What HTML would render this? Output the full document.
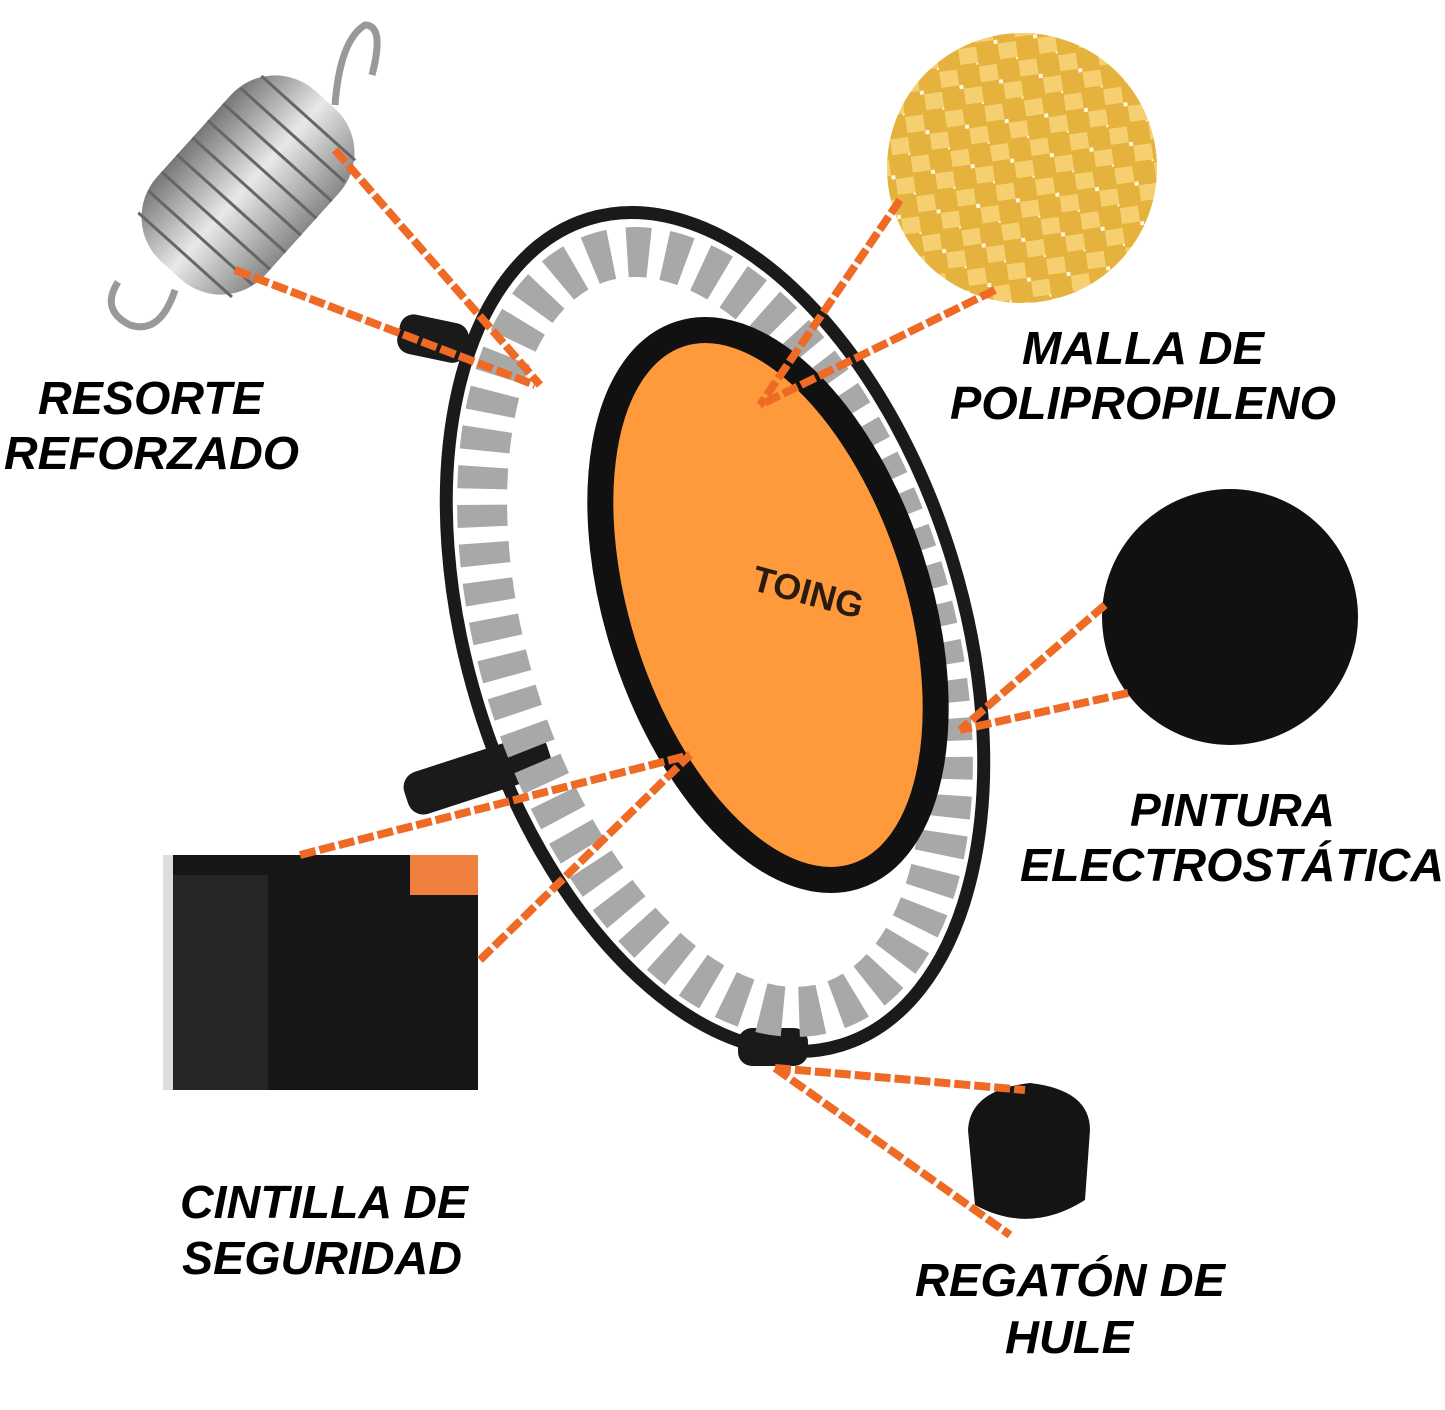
<!DOCTYPE html>
<html><head><meta charset="utf-8"><style>
html,body{margin:0;padding:0;background:#fff}
svg{display:block}
text{font-family:"Liberation Sans",sans-serif;font-weight:bold;font-style:italic;fill:#000}
</style></head><body>
<svg width="1445" height="1410" viewBox="0 0 1445 1410" xmlns="http://www.w3.org/2000/svg">
<defs>
<pattern id="weave" width="40" height="40" patternUnits="userSpaceOnUse" patternTransform="rotate(-8)">
<rect width="40" height="40" fill="#e5b23e"/>
<rect x="0" y="2" width="18" height="16" fill="#f6d070"/>
<rect x="22" y="22" width="18" height="16" fill="#f6d070"/>
<rect x="18" y="18" width="4" height="4" fill="#fff6e0"/>
<rect x="38" y="38" width="4" height="4" fill="#fff6e0"/>
</pattern>
<linearGradient id="sp" x1="0" y1="0" x2="1" y2="0"><stop offset="0" stop-color="#777"/><stop offset=".5" stop-color="#e8e8e8"/><stop offset="1" stop-color="#888"/></linearGradient>
</defs>

<!-- legs -->
<rect x="398" y="318" width="70" height="40" rx="14" fill="#1a1a1a" transform="rotate(12 430 338)"/>
<rect x="405" y="768" width="150" height="44" rx="16" fill="#1a1a1a" transform="rotate(-18 430 790)"/>
<rect x="738" y="1028" width="70" height="38" rx="14" fill="#1a1a1a"/>

<!-- trampoline -->
<g transform="rotate(-17 715 632)">
<ellipse cx="715" cy="632" rx="212" ry="392" fill="none" stroke="#a8a8a8" stroke-width="50" stroke-dasharray="22 16"/>
<ellipse cx="715" cy="632" rx="248" ry="432" fill="none" stroke="#1a1a1a" stroke-width="13"/>
</g>
<g transform="rotate(-18 768 605)">
<ellipse cx="768" cy="605" rx="150" ry="285" fill="#ff9a3c" stroke="#111" stroke-width="26"/>
</g>
<text x="750" y="600" font-size="36" transform="rotate(15 790 595)" style="font-style:normal;fill:#2a1a10">TOING</text>

<!-- spring photo -->
<path d="M335 105 Q340 40 365 25 Q385 25 372 75" fill="none" stroke="#999" stroke-width="7"/>
<path d="M175 290 Q160 335 130 325 Q100 310 118 282" fill="none" stroke="#999" stroke-width="7"/>
<g transform="rotate(42 248 185)">
<rect x="175" y="70" width="146" height="230" rx="60" fill="url(#sp)"/>
<g stroke="#666" stroke-width="3">
<line x1="185" y1="95" x2="311" y2="95"/><line x1="178" y1="118" x2="318" y2="118"/>
<line x1="175" y1="141" x2="321" y2="141"/><line x1="175" y1="164" x2="321" y2="164"/>
<line x1="175" y1="187" x2="321" y2="187"/><line x1="175" y1="210" x2="321" y2="210"/>
<line x1="175" y1="233" x2="321" y2="233"/><line x1="178" y1="256" x2="318" y2="256"/>
<line x1="185" y1="279" x2="311" y2="279"/></g>
</g>

<!-- mesh -->
<circle cx="1022" cy="168" r="135" fill="url(#weave)"/>

<!-- black ball -->
<circle cx="1230" cy="617" r="128" fill="#111"/>

<!-- strap -->
<rect x="163" y="855" width="315" height="235" fill="#161616"/>
<rect x="410" y="855" width="68" height="40" fill="#f08040"/>
<rect x="163" y="855" width="10" height="235" fill="#ddd"/>
<rect x="173" y="875" width="95" height="215" fill="#262626"/>

<!-- rubber cap -->
<path d="M968 1130 Q970 1090 1030 1083 Q1090 1090 1090 1130 L1085 1200 Q1030 1235 975 1205 Z" fill="#141414"/>

<!-- chains -->
<g fill="none" stroke-linecap="butt">
<g id="ch" stroke="#ee6a25" stroke-width="8" stroke-dasharray="16 4">
<line x1="335" y1="150" x2="540" y2="385"/>
<line x1="235" y1="270" x2="535" y2="385"/>
<line x1="900" y1="200" x2="760" y2="405"/>
<line x1="995" y1="290" x2="760" y2="405"/>
<line x1="1105" y1="605" x2="960" y2="730"/>
<line x1="1128" y1="693" x2="960" y2="730"/>
<line x1="300" y1="855" x2="690" y2="755"/>
<line x1="480" y1="960" x2="690" y2="755"/>
<line x1="775" y1="1068" x2="1025" y2="1090"/>
<line x1="775" y1="1068" x2="1010" y2="1235"/>
</g>
</g>

<!-- labels -->
<g font-size="46">
<text x="38" y="414" textLength="225" lengthAdjust="spacingAndGlyphs">RESORTE</text>
<text x="4" y="469" textLength="295" lengthAdjust="spacingAndGlyphs">REFORZADO</text>
<text x="1022" y="364" textLength="242" lengthAdjust="spacingAndGlyphs">MALLA DE</text>
<text x="950" y="419" textLength="386" lengthAdjust="spacingAndGlyphs">POLIPROPILENO</text>
<text x="1130" y="826" textLength="205" lengthAdjust="spacingAndGlyphs">PINTURA</text>
<text x="1020" y="881" textLength="424" lengthAdjust="spacingAndGlyphs">ELECTROSTÁTICA</text>
<text x="180" y="1218" textLength="288" lengthAdjust="spacingAndGlyphs">CINTILLA DE</text>
<text x="182" y="1274" textLength="280" lengthAdjust="spacingAndGlyphs">SEGURIDAD</text>
<text x="915" y="1296" textLength="310" lengthAdjust="spacingAndGlyphs">REGATÓN DE</text>
<text x="1005" y="1353" textLength="128" lengthAdjust="spacingAndGlyphs">HULE</text>
</g>
</svg>
</body></html>
